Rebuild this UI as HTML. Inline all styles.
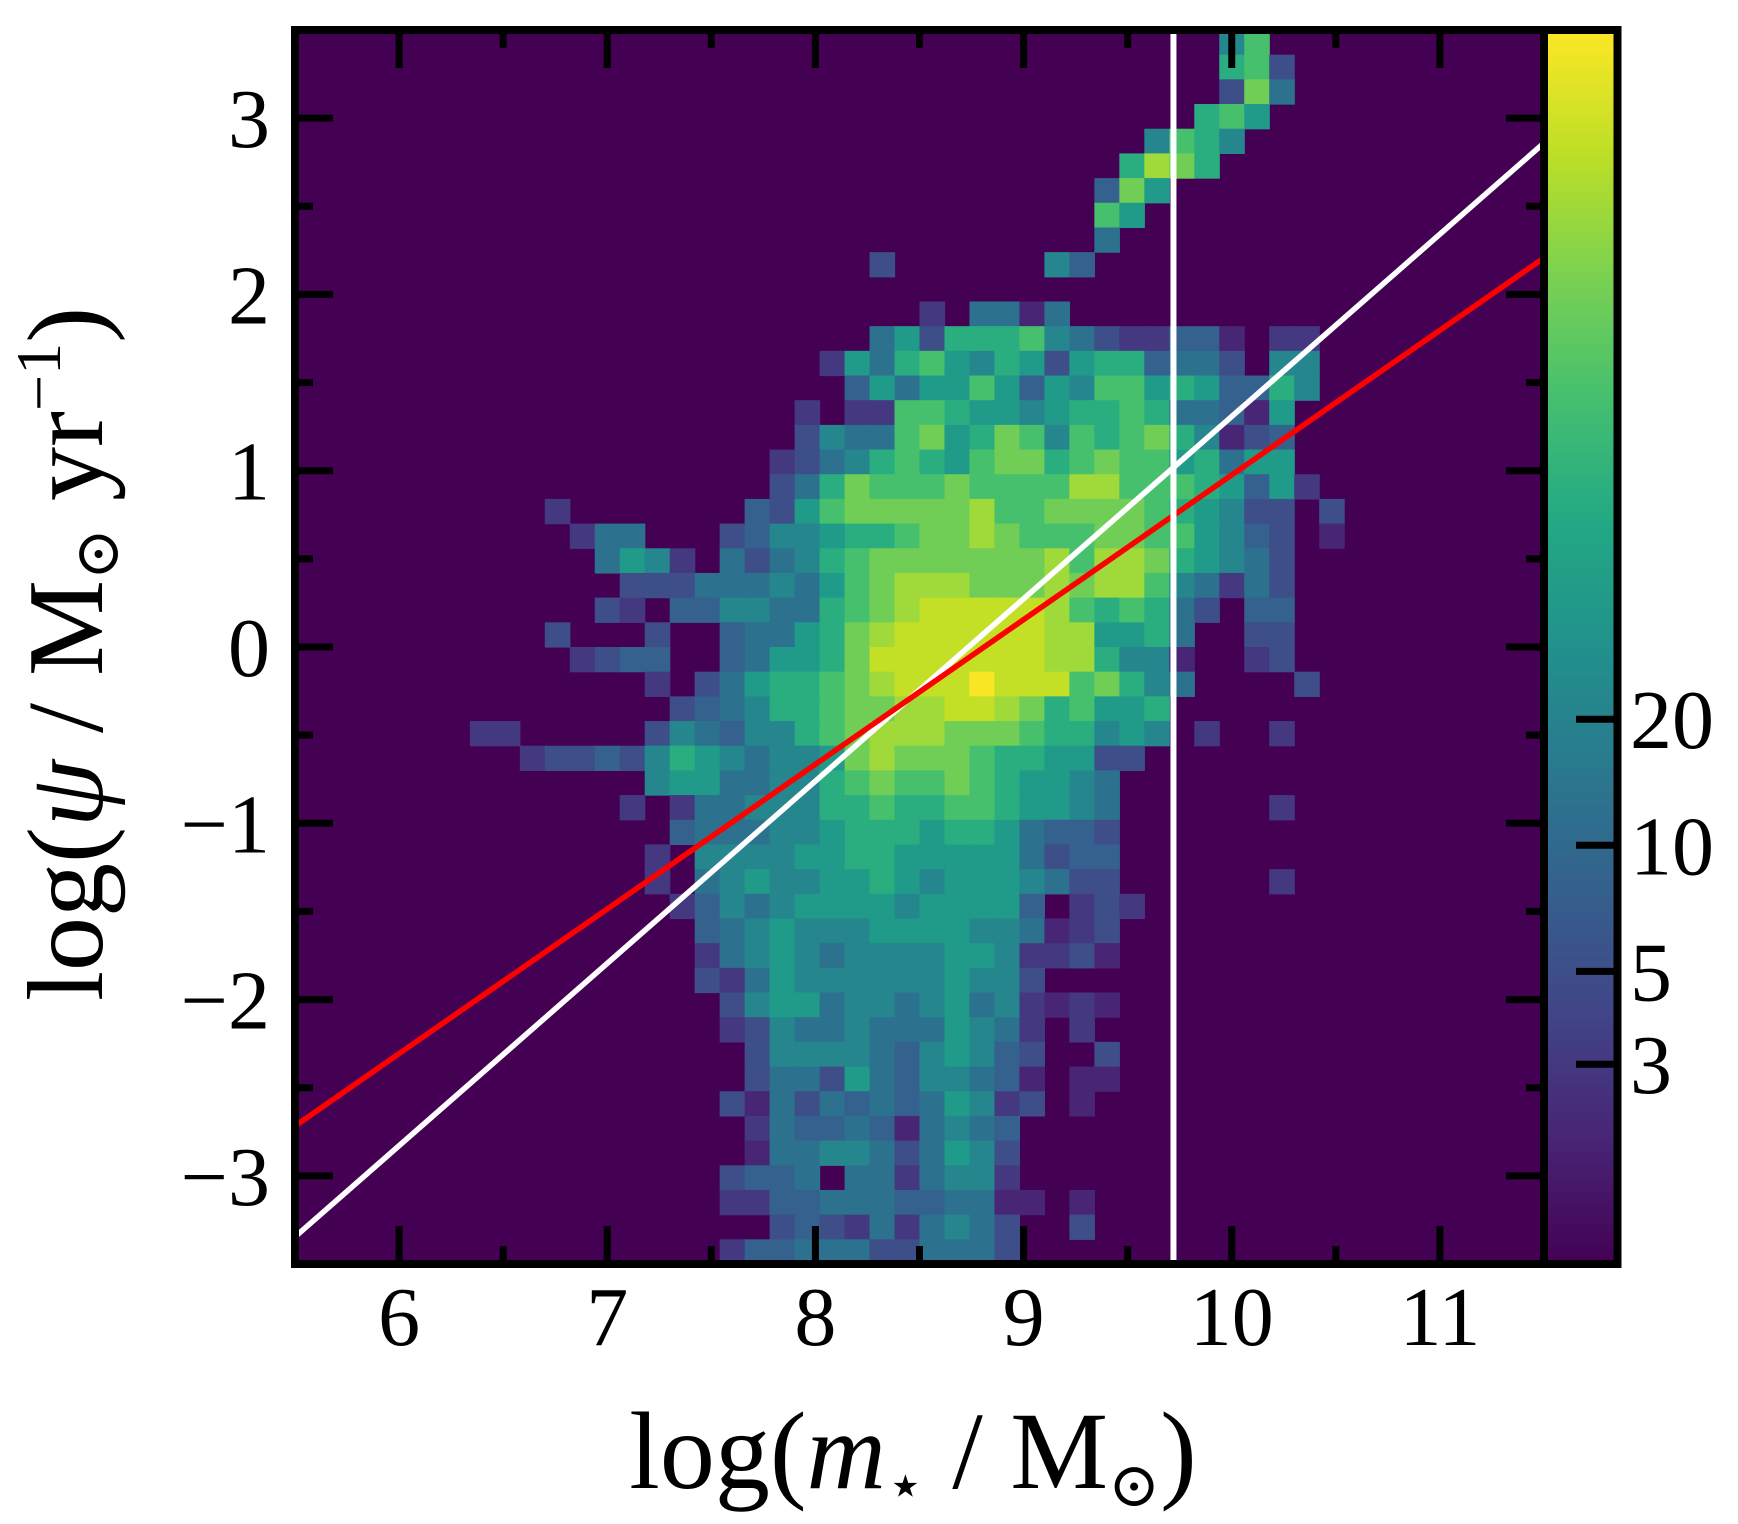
<!DOCTYPE html>
<html><head><meta charset="utf-8"><style>
html,body{margin:0;padding:0;background:#fff;}
svg{display:block;}
text{font-family:"Liberation Serif","DejaVu Serif",serif;fill:#000;}
</style></head><body>
<svg id="chart" width="1738" height="1524" viewBox="0 0 1738 1524" xmlns="http://www.w3.org/2000/svg">
<defs>
<clipPath id="plotclip"><rect x="295" y="30" width="1249" height="1234"/></clipPath>
<linearGradient id="cbgrad" x1="0" y1="1" x2="0" y2="0">
<stop offset="0" stop-color="#440154"/><stop offset="0.1" stop-color="#482475"/><stop offset="0.2" stop-color="#414487"/><stop offset="0.3" stop-color="#355f8d"/><stop offset="0.4" stop-color="#2a788e"/><stop offset="0.5" stop-color="#21918c"/><stop offset="0.6" stop-color="#22a884"/><stop offset="0.7" stop-color="#44bf70"/><stop offset="0.8" stop-color="#7ad151"/><stop offset="0.9" stop-color="#bddf26"/><stop offset="1" stop-color="#fde725"/>
</linearGradient>
</defs>
<rect x="295" y="30" width="1249" height="1234" fill="#440154"/>
<g id="cells" clip-path="url(#plotclip)"></g>
<g id="lines" clip-path="url(#plotclip)"></g>
<g id="ticks"></g>
<rect x="295" y="30" width="1249" height="1234" fill="none" stroke="#000" stroke-width="8"/>
<rect x="1544" y="30" width="73.5" height="1234" fill="url(#cbgrad)" stroke="#000" stroke-width="8"/>
<g id="cbticks"></g>
<text x="913" y="1488" font-size="110" text-anchor="middle">log(<tspan font-style="italic">m</tspan><tspan font-size="62" dy="18">⋆</tspan><tspan dy="-18"> / M</tspan><tspan font-size="62" dy="18">⊙</tspan><tspan dy="-18">)</tspan></text>
<text transform="translate(102,654) rotate(-90)" x="0" y="0" font-size="108" text-anchor="middle">log(<tspan font-style="italic">ψ</tspan> / M<tspan font-size="62" dy="16">⊙</tspan><tspan dy="-16"> yr</tspan><tspan font-size="64" dy="-42">−1</tspan><tspan dy="42">)</tspan></text>
</svg>
<script>
const xTicks=[6,7,8,9,10,11];
const yTicks=[-3,-2,-1,0,1,2,3];
const cbTicks=[3,5,10,20];
const levelCounts=[0,2,3,5,8,13,22,40,70,120,200,330,480,850];
const rowStartCol=[37,37,37,36,34,33,32,32,32,23,0,25,23,21,22,20,20,19,19,10,11,12,13,12,10,11,14,15,7,9,14,13,15,14,14,15,16,16,16,17,17,18,18,17,18,18,17,17,19,17];
const rowCodes=["69","893","3a5","897","6986","8ba8","4a7","97","5","3......64","","2.5515","573888965322441.22","27589768737884553.66","4757797476997874486","2.229987767889855417","36559a78a96989a86134","235689879aa89a9978577","358a999a9999bb99987472","2.......4379aaaaab99aaaa987633.3","255...34667889aaba999aa997643.1","5762.535689aaaaaaab9bba87653","3335556579abbbaaababb965253","32.44665589abcccccb989853.44","3...3..45578abccccccbb7785..33","2344..45778acccccccbb8661..23","2.357889abcccdccc9a865....3","3456889aabbccba89778","22.....36546689abbbaaa988676.2..2","2334368765667abaaa9887733","677556689a99a987765","2.255666889889987765......2","455566788878875443","2.66667788777775344","2.56766778767776533......2","246567777677774.232","45676667777665123","25676566667762231","32576666667663","3677566567562121","2365565557652.2","366665467643..3","355375466541.11","3153545457623.1","25445415654","15566535763","3445.5525662","2244555445511.1","3432525653..3","244555335553"];
const xMin=5.5, xMax=11.5, yMin=-3.5, yMax=3.5, binDx=0.12, binDy=0.14, vMax=885;
const fitX=[5.5,11.5];
const whiteFitY=[-3.346,2.859];
const redFitY=[-2.717,2.207];
const massCut=[9.72];

const NS="http://www.w3.org/2000/svg";
const L=295,R=1544,T=30,B=1264;
function X(v){return L+(v-xMin)/(xMax-xMin)*(R-L);}
function Y(v){return B-(v-yMin)/(yMax-yMin)*(B-T);}
function CB(v){return B-Math.log10(v)/Math.log10(vMax)*(B-T);}
const stops=["#440154","#482475","#414487","#355f8d","#2a788e","#21918c","#22a884","#44bf70","#7ad151","#bddf26","#fde725"];
function hex(h){return [parseInt(h.substr(1,2),16),parseInt(h.substr(3,2),16),parseInt(h.substr(5,2),16)];}
function viridis(f){f=Math.max(0,Math.min(1,f));const p=f*10,i=Math.min(9,Math.floor(p)),t=p-i;const a=hex(stops[i]),b=hex(stops[i+1]);return "rgb("+a.map((c,k)=>Math.round(c+(b[k]-c)*t)).join(",")+")";}
function mk(tag,attrs,parent){const e=document.createElementNS(NS,tag);for(const k in attrs)e.setAttribute(k,attrs[k]);parent.appendChild(e);return e;}
const codes="0123456789abcd";
const cells=document.getElementById("cells");
rowCodes.forEach((s,r)=>{
  for(let j=0;j<s.length;j++){
    const ch=s[j]; if(ch==='.'||ch==='0')continue;
    const cnt=levelCounts[codes.indexOf(ch)];
    const c=rowStartCol[r]+j;
    const x0=xMin+c*binDx, y1=yMax-r*binDy;
    const el=mk("rect",{x:X(x0),y:Y(y1),width:X(x0+binDx)-X(x0)+0.6,height:Y(y1-binDy)-Y(y1)+0.6,fill:viridis(Math.log(cnt)/Math.log(vMax))},cells);
    
    
  }
});
const lines=document.getElementById("lines");
const lw=mk("line",{x1:X(fitX[0]),y1:Y(whiteFitY[0]),x2:X(fitX[1]),y2:Y(whiteFitY[1]),stroke:"#fff","stroke-width":5.5},lines);


const lr=mk("line",{x1:X(fitX[0]),y1:Y(redFitY[0]),x2:X(fitX[1]),y2:Y(redFitY[1]),stroke:"#ff0000","stroke-width":5.5},lines);


const lv=mk("line",{x1:X(massCut[0]),y1:T,x2:X(massCut[0]),y2:B,stroke:"#fff","stroke-width":6},lines);


const tg=document.getElementById("ticks");
function tick(x1,y1,x2,y2){const t=mk("line",{x1,y1,x2,y2,stroke:"#000","stroke-width":7},tg);}
for(let v=xMin;v<=xMax+1e-9;v+=0.5){
  const major=Math.abs(v-Math.round(v))<1e-6, len=major?38:18, x=X(v);
  if(x<=L+2||x>=R-2)continue;
  tick(x,B,x,B-len); tick(x,T,x,T+len);
}
for(let v=yMin;v<=yMax+1e-9;v+=0.5){
  const major=Math.abs(v-Math.round(v))<1e-6, len=major?38:18, y=Y(v);
  if(y<=T+2||y>=B-2)continue;
  tick(L,y,L+len,y); tick(R,y,R-len,y);
}
xTicks.forEach(v=>{const t=mk("text",{x:X(v),y:1345,"font-size":84,"text-anchor":"middle"},tg);t.textContent=String(v);});
yTicks.forEach(v=>{const t=mk("text",{x:270,y:Y(v)+29,"font-size":84,"text-anchor":"end"},tg);t.textContent=(v<0?"−":"")+Math.abs(v);});
const cg=document.getElementById("cbticks");
cbTicks.forEach(v=>{const y=CB(v);const l=mk("line",{x1:1576,y1:y,x2:1614,y2:y,stroke:"#000","stroke-width":7},cg);
const t=mk("text",{x:1630,y:y+29,"font-size":84},cg);t.textContent=String(v);});
</script>
</body></html>
